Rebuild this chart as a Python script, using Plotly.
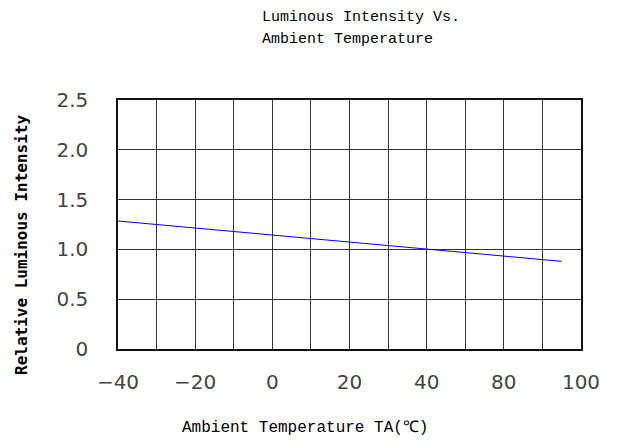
import plotly.graph_objects as go

# Data (axis coordinates; the chart's x tick labels are as printed on the original)
temperature = [-40, 0, 40, 75]
relative_intensity = [1.285, 1.145, 1.0, 0.88]

x_tickvals = [-40, -20, 0, 20, 40, 60, 80]
x_ticktext = ["\u221240", "\u221220", "0", "20", "40", "80", "100"]
y_tickvals = [0, 0.5, 1.0, 1.5, 2.0, 2.5]
y_ticktext = ["0", "0.5", "1.0", "1.5", "2.0", "2.5"]

title_lines = ["Luminous Intensity Vs.", "Ambient Temperature"]
x_title = "Ambient Temperature TA(\u2103)"
y_title = "Relative Luminous Intensity"

W, H = 624, 440
L, R, T, B = 118, 43, 100, 91
PW, PH = W - L - R, H - T - B


def px_x(px):
    return (px - L) / PW


def px_y(py):
    return (H - B - py) / PH


fig = go.Figure()
fig.add_trace(go.Scatter(
    x=temperature, y=relative_intensity, mode="lines",
    line=dict(color="#0000ff", width=1), showlegend=False, hoverinfo="skip",
))

grid_color = "#333333"
tick_font = dict(family="DejaVu Sans", size=20, color="#444444")
fig.update_layout(
    width=W, height=H,
    margin=dict(l=L, r=R, t=T, b=B),
    paper_bgcolor="white", plot_bgcolor="white",
    xaxis=dict(
        range=[-40, 80], tickmode="array", tickvals=x_tickvals, ticktext=x_ticktext,
        showgrid=True, gridcolor=grid_color, gridwidth=1,
        minor=dict(dtick=10, tick0=-40, showgrid=True, gridcolor=grid_color, gridwidth=1),
        showline=True, linecolor="#111111", linewidth=1.5, mirror=True,
        zeroline=False, ticks="", ticklabelstandoff=14,
        tickfont=tick_font,
    ),
    yaxis=dict(
        range=[0, 2.5], tickmode="array", tickvals=y_tickvals, ticktext=y_ticktext,
        showgrid=True, gridcolor=grid_color, gridwidth=1,
        showline=True, linecolor="#111111", linewidth=1.5, mirror=True,
        zeroline=False, ticks="", ticklabelstandoff=24,
        tickfont=tick_font,
    ),
    annotations=[
        dict(text=title_lines[0], xref="paper", yref="paper",
             x=px_x(260), y=px_y(18), xanchor="left", yanchor="middle",
             showarrow=False,
             font=dict(family="Liberation Mono", size=15, color="#000000")),
        dict(text=title_lines[1], xref="paper", yref="paper",
             x=px_x(260), y=px_y(40), xanchor="left", yanchor="middle",
             showarrow=False,
             font=dict(family="Liberation Mono", size=15, color="#000000")),
        dict(text=x_title, xref="paper", yref="paper",
             x=px_x(305), y=px_y(428), xanchor="center", yanchor="middle",
             showarrow=False,
             font=dict(family="Liberation Mono", size=16, color="#000000")),
        dict(text=y_title, xref="paper", yref="paper", textangle=-90,
             x=px_x(21), y=px_y(245), xanchor="center", yanchor="middle",
             showarrow=False,
             font=dict(family="DejaVu Sans Mono", size=16, color="#000000", weight="bold")),
    ],
)

fig.write_html(
    "out.html",
    config={"displayModeBar": False},
    post_script="document.body.style.margin='0';document.body.style.overflow='hidden';",
)
